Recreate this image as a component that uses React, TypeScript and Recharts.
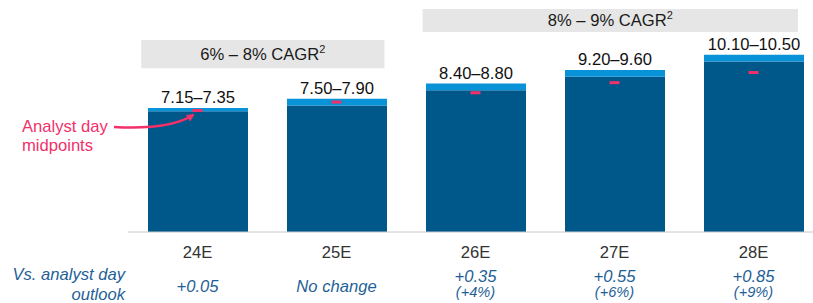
import React from "react";
import {
  ComposedChart,
  Bar,
  Scatter,
  XAxis,
  YAxis,
  ReferenceArea,
  LabelList,
} from "recharts";

const categories = ["24E", "25E", "26E", "27E", "28E"];
const lowValues = [7.15, 7.5, 8.4, 9.2, 10.1];
const highValues = [7.35, 7.9, 8.8, 9.6, 10.5];
const midpoints = [7.2, 7.7, 8.25, 8.85, 9.45];
const deltas = ["+0.05", "No change", "+0.35", "+0.55", "+0.85"];
const deltaPcts = ["", "", "(+4%)", "(+6%)", "(+9%)"];

const FONT = "'Liberation Sans', Arial, sans-serif";
const DARK = "#00578a";
const LIGHT = "#0892d8";
const PINK = "#f2306a";
const BLUE_TXT = "#1f5f97";

const data = categories.map((c, i) => ({
  name: c,
  pos: i + 0.5,
  low: lowValues[i],
  range: +(highValues[i] - lowValues[i]).toFixed(2),
  mid: midpoints[i],
  label: `${lowValues[i].toFixed(2)}–${highValues[i].toFixed(2)}`,
}));

const MidMarker = (props: any) => {
  const { cx, cy } = props;
  if (cx == null || cy == null) return null;
  return <rect x={cx - 5} y={cy - 1.5} width={10} height={3} fill={PINK} />;
};

const CagrLabel = (props: any) => {
  const { viewBox, text } = props;
  if (!viewBox) return null;
  const cx = viewBox.x + viewBox.width / 2;
  const cy = viewBox.y + viewBox.height / 2;
  return (
    <text x={cx} y={cy + 6} textAnchor="middle" fontSize={16.6} fontFamily={FONT} fill="#1a1a1a">
      {text}
      <tspan fontSize={11} dy={-7}>2</tspan>
    </text>
  );
};

const CategoryTick = (props: any) => {
  const { x, y, payload, index } = props;
  const pct = deltaPcts[index];
  return (
    <g fontFamily={FONT}>
      <text x={x} y={y + 26} textAnchor="middle" fontSize={16.6} fill="#333">
        {payload.value}
      </text>
      {pct ? (
        <>
          <text x={x} y={y + 50} textAnchor="middle" fontSize={16.6} fontStyle="italic" fill={BLUE_TXT}>
            {deltas[index]}
          </text>
          <text x={x} y={y + 65} textAnchor="middle" fontSize={14.6} fontStyle="italic" fill={BLUE_TXT}>
            {pct}
          </text>
        </>
      ) : (
        <text x={x} y={y + 60} textAnchor="middle" fontSize={16.6} fontStyle="italic" fill={BLUE_TXT}>
          {deltas[index]}
        </text>
      )}
    </g>
  );
};

export default function App() {
  return (
    <div style={{ position: "absolute", left: 0, top: 0, width: 813, height: 303, background: "#fff" }}>
      <ComposedChart
        width={813}
        height={303}
        data={data}
        margin={{ top: 0, right: -10, bottom: 0, left: 128 }}
      >
        <XAxis
          dataKey="name"
          height={71}
          tickLine={false}
          tickSize={0}
          tickMargin={0}
          axisLine={{ stroke: "#c8c8c8" }}
          tick={<CategoryTick />}
          interval={0}
        />
        <XAxis xAxisId="num" dataKey="pos" type="number" domain={[0, 5]} hide allowDataOverflow height={0} />
        <YAxis hide domain={[0, 13.75]} />
        <ReferenceArea
          xAxisId="num"
          x1={0.095}
          x2={1.845}
          y1={9.7}
          y2={11.38}
          fill="#e6e6e6"
          fillOpacity={1}
          stroke="none"
          ifOverflow="visible"
          label={<CagrLabel text="6% – 8% CAGR" />}
        />
        <ReferenceArea
          xAxisId="num"
          x1={2.12}
          x2={4.82}
          y1={11.86}
          y2={13.22}
          fill="#e6e6e6"
          fillOpacity={1}
          stroke="none"
          ifOverflow="visible"
          label={<CagrLabel text="8% – 9% CAGR" />}
        />
        <Bar dataKey="low" stackId="a" fill={DARK} barSize={100} isAnimationActive={false} />
        <Bar dataKey="range" stackId="a" fill={LIGHT} barSize={100} isAnimationActive={false}>
          <LabelList dataKey="label" position="top" offset={5} fill="#111" fontSize={16.6} fontFamily={FONT} />
        </Bar>
        <Scatter dataKey="mid" shape={<MidMarker />} isAnimationActive={false} />
      </ComposedChart>
      <svg
        width={813}
        height={303}
        style={{ position: "absolute", left: 0, top: 0, pointerEvents: "none" }}
        fontFamily={FONT}
      >
        <defs>
          <marker id="arrowHead" markerWidth="8" markerHeight="8" refX="6" refY="4" orient="auto" markerUnits="userSpaceOnUse">
            <path d="M0,0 L8,4 L0,8 Z" fill={PINK} />
          </marker>
        </defs>
        <text x={22} y={132} fontSize={16.6} fill={PINK}>Analyst day</text>
        <text x={22} y={151} fontSize={16.6} fill={PINK}>midpoints</text>
        <path d="M114,127 Q170,130 193,115" fill="none" stroke={PINK} strokeWidth={2.5} markerEnd="url(#arrowHead)" />
        <text x={125} y={280} fontSize={16.6} fontStyle="italic" fill={BLUE_TXT} textAnchor="end">Vs. analyst day</text>
        <text x={125} y={300} fontSize={16.6} fontStyle="italic" fill={BLUE_TXT} textAnchor="end">outlook</text>
      </svg>
    </div>
  );
}
